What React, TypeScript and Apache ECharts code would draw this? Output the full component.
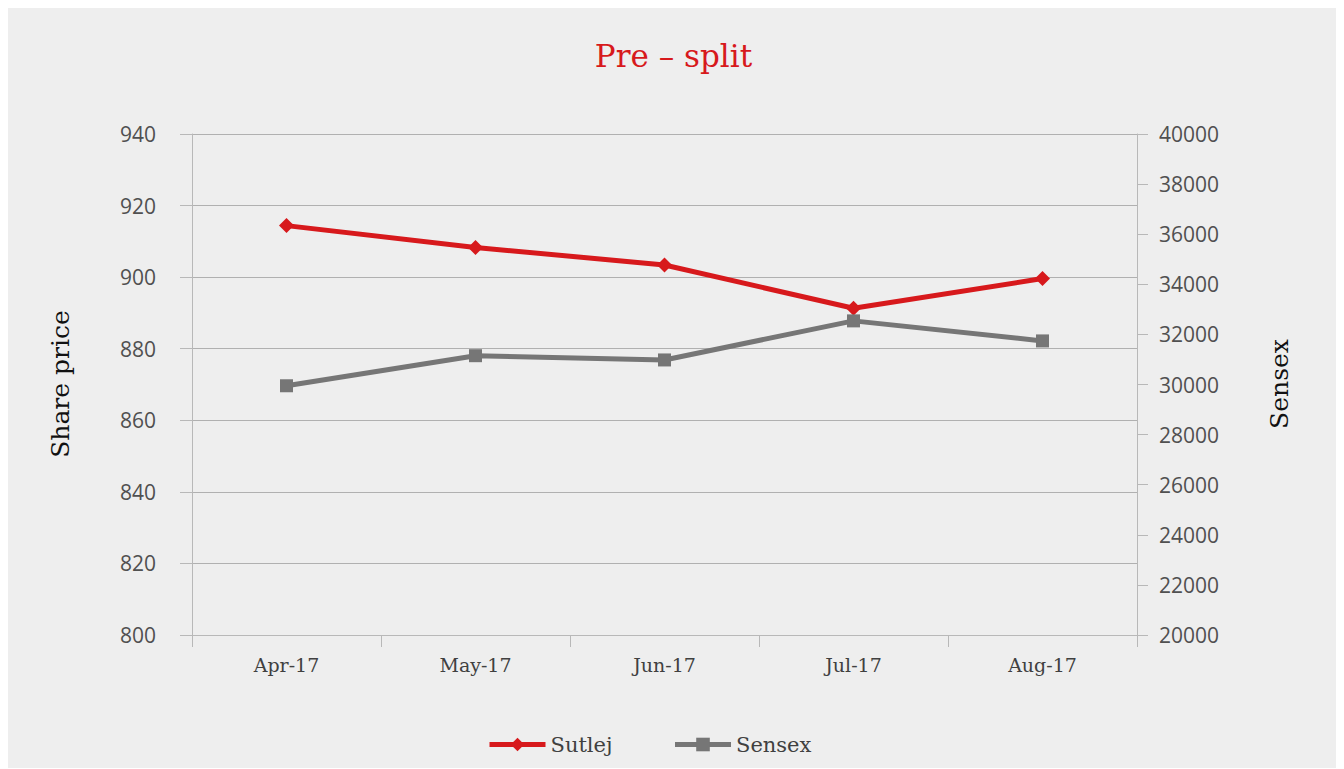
import React, { useEffect, useRef } from "react";
import * as echarts from "echarts";

const categories = ["Apr-17", "May-17", "Jun-17", "Jul-17", "Aug-17"];
const sutlejValues = [914.4, 908.3, 903.4, 891.3, 899.6];
const sensexValues = [29950, 31150, 30980, 32540, 31740];
const leftAxisRange = { min: 800, max: 940, interval: 20 };
const rightAxisRange = { min: 20000, max: 40000, interval: 2000 };

const RED = "#d7191c";
const GRAY = "#767676";
const SERIF = "'DejaVu Serif', serif";
const SANS = "'Open Sans', 'Noto Sans', sans-serif";

export default function App() {
  const ref = useRef<HTMLDivElement>(null);

  useEffect(() => {
    document.body.style.overflow = "hidden";
    const chart = echarts.init(ref.current!, null, { renderer: "svg" });
    chart.setOption({
      animation: false,
      backgroundColor: "#eeeeee",
      title: {
        text: "Pre – split",
        left: "center",
        top: 32,
        padding: 0,
        textStyle: { color: RED, fontFamily: SERIF, fontSize: 31, fontWeight: "normal" },
      },
      grid: { left: 184, right: 202, top: 126, bottom: 133, containLabel: false },
      legend: {
        top: 721,
        left: 474,
        itemWidth: 56,
        itemHeight: 17,
        itemGap: 60,
        lineStyle: { width: 5 },
        textStyle: { color: "#404040", fontFamily: SERIF, fontSize: 21 },
        data: ["Sutlej", "Sensex"],
      },
      graphic: [
        {
          type: "text",
          x: 52,
          y: 376,
          rotation: Math.PI / 2,
          style: {
            text: "Share price",
            align: "center",
            verticalAlign: "middle",
            fill: "#111111",
            fontFamily: SERIF,
            fontSize: 25,
          },
        },
        {
          type: "text",
          x: 1271,
          y: 376,
          rotation: Math.PI / 2,
          style: {
            text: "Sensex",
            align: "center",
            verticalAlign: "middle",
            fill: "#111111",
            fontFamily: SERIF,
            fontSize: 25,
          },
        },
      ],
      xAxis: {
        type: "category",
        data: categories,
        boundaryGap: true,
        axisLine: { lineStyle: { color: "#b8b8b8", width: 1 } },
        axisTick: { show: true, length: 12, lineStyle: { color: "#b8b8b8" } },
        axisLabel: { color: "#404040", fontFamily: SERIF, fontSize: 19, margin: 20 },
        splitLine: { show: false },
      },
      yAxis: [
        {
          type: "value",
          ...leftAxisRange,
          axisLine: { show: true, lineStyle: { color: "#b8b8b8", width: 1 } },
          axisTick: { show: true, length: 12, lineStyle: { color: "#b8b8b8" } },
          axisLabel: { color: "#505050", fontFamily: SANS, fontSize: 21, margin: 36 },
          splitLine: { show: true, lineStyle: { color: "#b0b0b0", width: 1 } },
        },
        {
          type: "value",
          ...rightAxisRange,
          position: "right",
          axisLine: { show: true, lineStyle: { color: "#b8b8b8", width: 1 } },
          axisTick: { show: true, length: 11, lineStyle: { color: "#b8b8b8" } },
          axisLabel: {
            color: "#505050",
            fontFamily: SANS,
            fontSize: 21,
            margin: 22,
            formatter: (v: number) => String(v),
          },
          splitLine: { show: false },
        },
      ],
      series: [
        {
          name: "Sutlej",
          type: "line",
          yAxisIndex: 0,
          data: sutlejValues,
          symbol: "diamond",
          symbolSize: 15,
          lineStyle: { color: RED, width: 5 },
          itemStyle: { color: RED },
        },
        {
          name: "Sensex",
          type: "line",
          yAxisIndex: 1,
          data: sensexValues,
          symbol: "rect",
          symbolSize: 13,
          lineStyle: { color: GRAY, width: 5 },
          itemStyle: { color: GRAY },
        },
      ],
    });
    return () => chart.dispose();
  }, []);

  return <div ref={ref} style={{ width: 1331, height: 760 }} />;
}
